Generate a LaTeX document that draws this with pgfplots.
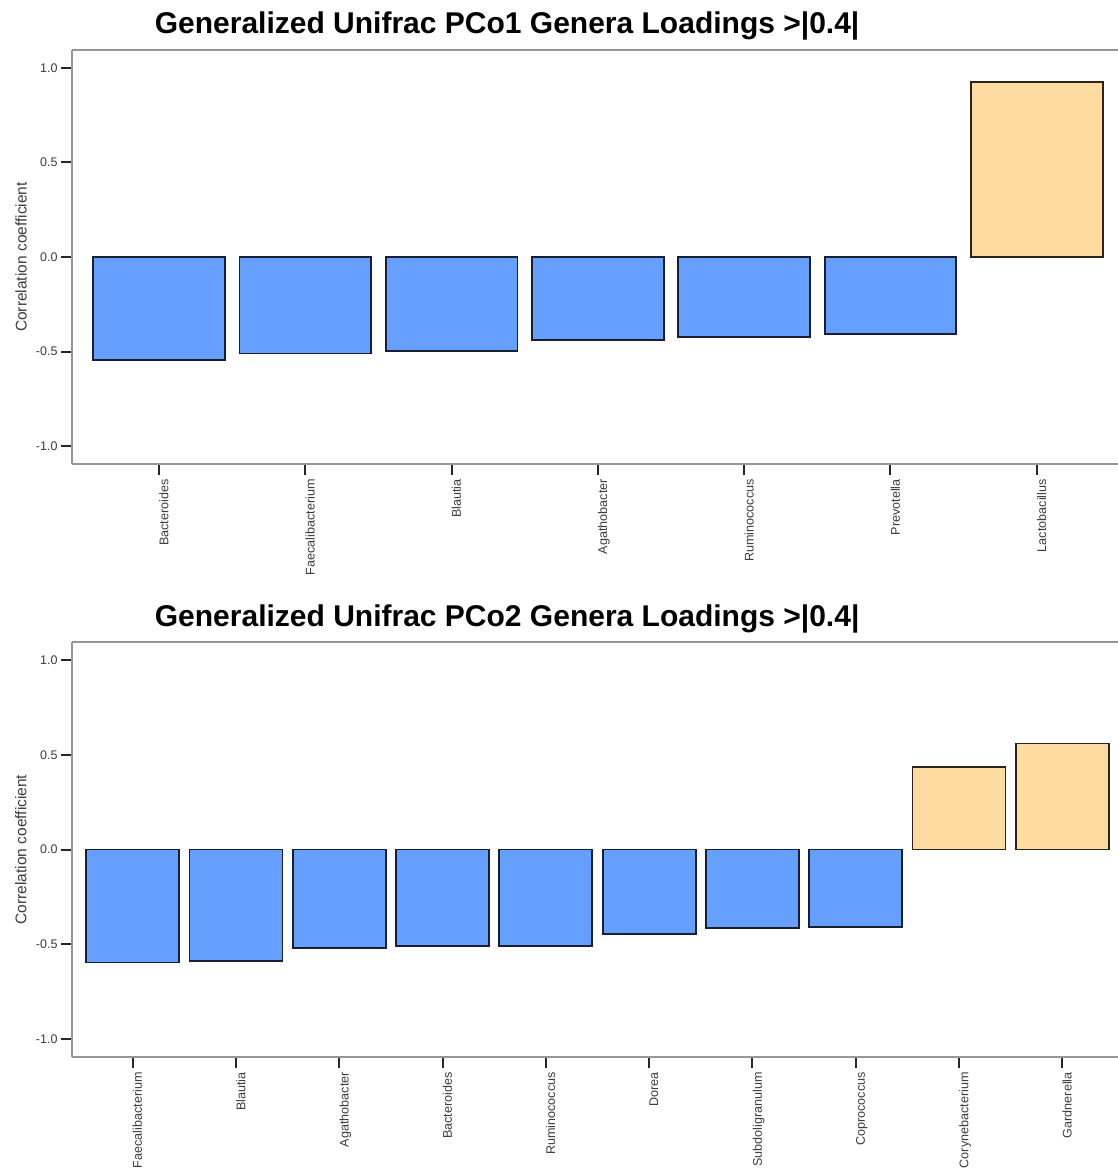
\documentclass[border=0pt]{standalone}
\usepackage{pgfplots}
\pgfplotsset{compat=1.18}
\usepackage{fontspec}
\setmainfont{Liberation Sans}
\definecolor{barblue}{RGB}{101,159,255}
\definecolor{barorange}{RGB}{254,219,160}
\definecolor{axgray}{RGB}{150,150,150}
\definecolor{lblgray}{RGB}{60,60,60}
\definecolor{edgeblue}{RGB}{25,30,50}
\definecolor{edgeorange}{RGB}{45,35,25}
\pgfplotsset{
 panel/.style={
  scale only axis, width=1046pt,
  ymin=-1.095, ymax=1.095,
  axis x line=box, axis y line=left,
  axis line style={-, draw=axgray, line width=2pt},
  every outer x axis line/.append style={-},
  every outer y axis line/.append style={-},
  every inner x axis line/.append style={-},
  every inner y axis line/.append style={-},
  tick align=outside, xtick pos=bottom, ytick pos=left,
  major tick length=11pt,
  tick style={line width=2pt, draw=black!85},
  ytick={-1,-0.5,0,0.5,1},
  yticklabels={-1.0,-0.5,0.0,0.5,1.0},
  yticklabel style={font=\fontsize{12.5}{12}\selectfont, text=lblgray},
  xticklabel style={rotate=90, anchor=north east, font=\fontsize{12.6}{12}\selectfont, text=lblgray, inner ysep=0pt, inner xsep=4pt},
  ylabel={Correlation coefficient},
  ylabel style={at={(axis description cs:-0.0488,0.5)}, anchor=center, font=\fontsize{15.5}{15}\selectfont, text=lblgray},
  title style={at={(axis description cs:0.416,1)}, anchor=base, yshift=10pt, font=\bfseries\fontsize{30}{30}\selectfont},
  ybar, bar width=0.9,
  clip=false,
 },
 bluebar/.style={fill=barblue, draw=edgeblue, line width=1.8pt, bar shift=0pt},
 orangebar/.style={fill=barorange, draw=edgeorange, line width=1.8pt, bar shift=0pt},
}
\begin{document}
\begin{tikzpicture}[x=1pt,y=1pt]
\useasboundingbox (0,0) rectangle (1118,-1169);
\begin{axis}[panel, height=414pt, at={(72pt,-50pt)}, anchor=north west,
  xmin=-0.595, xmax=6.555,
  xtick={0,1,2,3,4,5,6},
  xticklabels={Bacteroides,Faecalibacterium,Blautia,Agathobacter,Ruminococcus,Prevotella,Lactobacillus},
  title={Generalized Unifrac PCo1 Genera Loadings >|0.4|}]
\addplot[bluebar] coordinates {(0,-0.543) (1,-0.510) (2,-0.496) (3,-0.437) (4,-0.425) (5,-0.409)};
\addplot[orangebar] coordinates {(6,0.926)};
\end{axis}
\begin{axis}[panel, height=415pt, at={(72pt,-642pt)}, anchor=north west,
  xmin=-0.587, xmax=9.539,
  xtick={0,1,2,3,4,5,6,7,8,9},
  xticklabels={Faecalibacterium,Blautia,Agathobacter,Bacteroides,Ruminococcus,Dorea,Subdoligranulum,Coprococcus,Corynebacterium,Gardnerella},
  title={Generalized Unifrac PCo2 Genera Loadings >|0.4|}]
\addplot[bluebar] coordinates {(0,-0.596) (1,-0.589) (2,-0.518) (3,-0.510) (4,-0.508) (5,-0.444) (6,-0.414) (7,-0.408)};
\addplot[orangebar] coordinates {(8,0.436) (9,0.559)};
\end{axis}
\end{tikzpicture}
\end{document}
